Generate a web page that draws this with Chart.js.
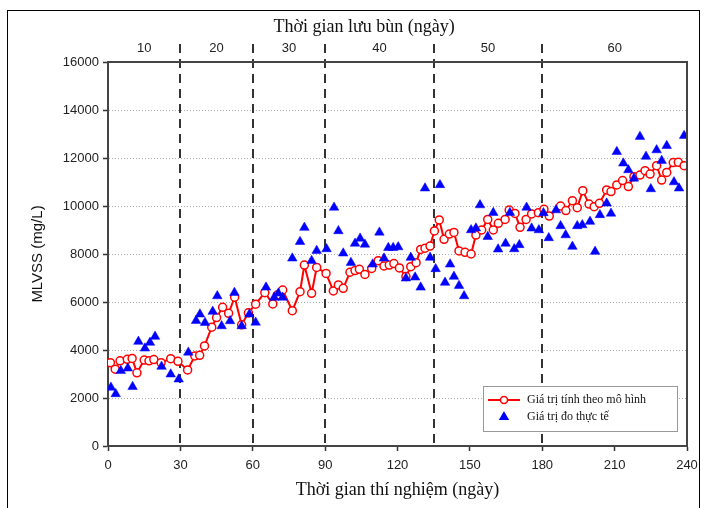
<!DOCTYPE html>
<html>
<head>
<meta charset="utf-8">
<script src="https://cdn.jsdelivr.net/npm/chart.js@4.4.1/dist/chart.umd.min.js"></script>
<style>
  html, body { margin: 0; padding: 0; background: #fff; }
</style>
</head>
<body>
<canvas id="c" width="709" height="508"></canvas>
<script>
// model (red line) - day / MLVSS
var modelDays = [1, 3, 5, 8, 10, 12, 15, 17, 19, 22, 26, 29, 33, 36, 38, 40, 43, 45, 47.5, 50,
  52.5, 55.4, 58.2, 61.2, 65, 68.3, 70.2, 72.4, 76.4, 79.6, 81.4, 84.4, 86.5, 90.4, 93.4, 95.5,
  97.5, 100.3, 102.4, 104.2, 106.5, 109.3, 112, 114.4, 116.6, 118.5, 120.8, 123.5, 125.5, 127.7,
  129.6, 131.4, 133.5, 135.3, 137.3, 139.3, 141.5, 143.4, 145.5, 148, 150.5, 152.5, 154.9, 157.4,
  159.7, 161.8, 164.6, 166.3, 168.7, 170.8, 173.3, 175.6, 178.4, 180.7, 182.9, 187.6, 189.8,
  192.5, 194.5, 196.8, 199.4, 201.5, 203.7, 206.7, 208.5, 210.9, 213.3, 215.7, 218, 220.5,
  222.6, 224.7, 227.4, 229.5, 231.6, 234.3, 236.4, 238.8];
var modelValues = [3470, 3200, 3550, 3610, 3650, 3050, 3580, 3550, 3600, 3470, 3640, 3530, 3170,
  3750, 3780, 4170, 4950, 5350, 5780, 5530, 6200, 5050, 5550, 5910, 6390, 5920, 6290, 6500, 5640,
  6430, 7540, 6360, 7440, 7190, 6460, 6710, 6570, 7240, 7310, 7360, 7150, 7400, 7720, 7500, 7540,
  7600, 7420, 7060, 7470, 7640, 8190, 8240, 8330, 8960, 9420, 8610, 8830, 8900, 8130, 8070, 8000,
  8790, 9000, 9440, 9000, 9280, 9440, 9830, 9690, 9110, 9440, 9670, 9720, 9860, 9580, 10000,
  9810, 10220, 9930, 10640, 10080, 9970, 10110, 10670, 10600, 10880, 11060, 10810, 11220, 11290,
  11470, 11330, 11680, 11080, 11400, 11810, 11820, 11680];

// measured (blue triangles)
var measuredDays = [1.2, 3.2, 5.3, 8.2, 10.2, 12.6, 15.3, 17.4, 19.5, 22.2, 26, 29.3, 33.3, 36.5,
  38.1, 40.2, 43.4, 45.3, 47.1, 50.6, 52.4, 55.4, 58.6, 61.2, 65.5, 68.9, 70.6, 72.4, 76.4, 79.6,
  81.4, 84.4, 86.5, 90.6, 93.7, 95.5, 97.5, 100.7, 102.4, 104.5, 106.5, 109.7, 112.5, 114.4,
  116.2, 118.2, 120.3, 123.5, 125.5, 127.3, 129.6, 131.4, 133.5, 135.8, 137.6, 139.7, 141.8,
  143.4, 145.5, 147.6, 150.5, 152.5, 154.2, 157.4, 159.7, 161.7, 164.8, 166.6, 168.4, 170.5,
  173.5, 175.6, 178.6, 180.5, 182.7, 185.7, 187.6, 189.7, 192.5, 194.5, 196.6, 199.8, 201.9,
  203.9, 206.7, 208.5, 210.9, 213.6, 215.7, 218, 220.5, 223, 225, 227.4, 229.5, 231.6, 234.6,
  236.7, 238.8];
var measuredValues = [2440, 2170, 3140, 3240, 2470, 4350, 4070, 4310, 4560, 3310, 2990, 2780,
  3900, 5220, 5490, 5140, 5600, 6250, 5000, 5210, 6390, 5000, 5490, 5150, 6610, 6190, 6360, 6190,
  7820, 8510, 9100, 7720, 8140, 8210, 9940, 8960, 8030, 7640, 8440, 8650, 8400, 7570, 8900, 7820,
  8260, 8260, 8290, 6990, 7850, 7030, 6610, 10740, 7850, 7380, 10880, 6810, 7570, 7060, 6680,
  6250, 9000, 9070, 10040, 8720, 9720, 8200, 8440, 9720, 8210, 8380, 9940, 9070, 9000, 9710,
  8670, 9830, 9170, 8790, 8310, 9170, 9210, 9350, 8100, 9630, 10110, 9690, 12260, 11780, 11500,
  11150, 12890, 12060, 10710, 12330, 11890, 12510, 11000, 10740, 12930];

// sludge retention time periods (top axis)
var srtBounds = [0, 30, 60, 90, 135, 180, 240];
var srtLabels = ['10', '20', '30', '40', '50', '60'];

var xTicks = [0, 30, 60, 90, 120, 150, 180, 210, 240];

function pts(xs, ys) {
  return xs.map(function (d, i) { return { x: d, y: ys[i] }; });
}

var decorations = {
  id: 'decorations',
  beforeDraw: function (chart) {
    var ctx = chart.ctx;
    ctx.save();
    ctx.fillStyle = '#fff';
    ctx.fillRect(0, 0, chart.width, chart.height);
    ctx.strokeStyle = '#000';
    ctx.lineWidth = 1;
    ctx.strokeRect(7.5, 10.5, 692, 600);
    ctx.restore();
  },
  beforeDatasetsDraw: function (chart) {
    var ctx = chart.ctx, a = chart.chartArea, x = chart.scales.x;
    ctx.save();
    ctx.strokeStyle = '#333';
    ctx.lineWidth = 2;
    ctx.setLineDash([9, 6]);
    for (var i = 1; i < srtBounds.length - 1; i++) {
      var px = Math.round(x.getPixelForValue(srtBounds[i]));
      ctx.beginPath();
      ctx.moveTo(px, a.top - 18);
      ctx.lineTo(px, a.bottom);
      ctx.stroke();
    }
    ctx.restore();
  },
  afterDraw: function (chart) {
    var ctx = chart.ctx, a = chart.chartArea, x = chart.scales.x;
    ctx.save();
    // plot frame top / right
    ctx.strokeStyle = '#444';
    ctx.lineWidth = 2;
    ctx.beginPath();
    ctx.moveTo(a.left, a.top);
    ctx.lineTo(a.right, a.top);
    ctx.lineTo(a.right, a.bottom);
    ctx.stroke();

    // top labels
    ctx.fillStyle = '#222';
    ctx.font = '13px "Liberation Sans", Arial, sans-serif';
    ctx.textAlign = 'center';
    ctx.textBaseline = 'middle';
    for (var i = 0; i < srtLabels.length; i++) {
      var mid = (srtBounds[i] + srtBounds[i + 1]) / 2;
      ctx.fillText(srtLabels[i], x.getPixelForValue(mid), a.top - 14);
    }
    ctx.font = '18px "Liberation Serif", "Times New Roman", serif';
    ctx.fillStyle = '#111';
    ctx.fillText('Thời gian lưu bùn (ngày)', 364, 27);

    // legend
    var lx = a.right - 204, ly = a.bottom - 60;
    ctx.fillStyle = '#fff';
    ctx.fillRect(lx, ly, 194, 45);
    ctx.strokeStyle = '#999';
    ctx.lineWidth = 1;
    ctx.strokeRect(lx + 0.5, ly + 0.5, 194, 45);

    ctx.strokeStyle = '#ff0000';
    ctx.lineWidth = 2;
    ctx.beginPath();
    ctx.moveTo(lx + 5, ly + 14);
    ctx.lineTo(lx + 37, ly + 14);
    ctx.stroke();
    ctx.fillStyle = '#fff';
    ctx.lineWidth = 1.5;
    ctx.beginPath();
    ctx.arc(lx + 21, ly + 14, 3.5, 0, Math.PI * 2);
    ctx.fill();
    ctx.stroke();

    ctx.fillStyle = '#0000ff';
    ctx.strokeStyle = '#0000ff';
    Chart.helpers.drawPoint(ctx, { pointStyle: 'triangle', radius: 4.5, borderWidth: 0.5, rotation: 0 }, lx + 21, ly + 31);

    ctx.fillStyle = '#111';
    ctx.textAlign = 'left';
    ctx.font = '12px "Liberation Serif", "Times New Roman", serif';
    ctx.fillText('Giá trị tính theo mô hình', lx + 44, ly + 14);
    ctx.fillText('Giá trị đo thực tế', lx + 44, ly + 31);
    ctx.restore();
  }
};

new Chart(document.getElementById('c'), {
  type: 'scatter',
  data: {
    datasets: [
      {
        label: 'Giá trị đo thực tế',
        data: pts(measuredDays, measuredValues),
        showLine: false,
        pointStyle: 'triangle',
        pointRadius: 5.5,
        pointBackgroundColor: '#0000ff',
        pointBorderColor: '#0000ff',
        pointBorderWidth: 0.5,
        order: 0
      },
      {
        label: 'Giá trị tính theo mô hình',
        data: pts(modelDays, modelValues),
        showLine: true,
        borderColor: '#ff0000',
        borderWidth: 2,
        tension: 0,
        pointStyle: 'circle',
        pointRadius: 4,
        pointBackgroundColor: '#fff',
        pointBorderColor: '#ff0000',
        pointBorderWidth: 1.5,
        order: 1
      }
    ]
  },
  options: {
    responsive: false,
    animation: false,
    layout: { padding: { left: 0, top: 62, right: 22, bottom: 0 } },
    plugins: { legend: { display: false }, tooltip: { enabled: false } },
    scales: {
      x: {
        type: 'linear',
        min: 0,
        max: 240,
        afterBuildTicks: function (s) { s.ticks = xTicks.map(function (v) { return { value: v }; }); },
        afterFit: function (s) { s.height = 62; },
        grid: { drawOnChartArea: false, drawTicks: true, tickLength: 5, tickColor: '#333', tickWidth: 1.5 },
        border: { color: '#444', width: 2 },
        ticks: {
          color: '#222', padding: 7,
          font: { family: '"Liberation Sans", Arial, sans-serif', size: 13 },
          callback: function (v) { return String(v); }
        },
        title: {
          display: true,
          text: 'Thời gian thí nghiệm (ngày)',
          color: '#111',
          padding: { top: 0, bottom: 7 },
          font: { family: '"Liberation Serif", "Times New Roman", serif', size: 18 }
        }
      },
      y: {
        min: 0,
        max: 16000,
        afterFit: function (s) { s.width = 108; },
        grid: { color: '#aaa', lineWidth: 1, tickLength: 5, tickColor: '#333', tickWidth: 1.5 },
        border: { color: '#444', width: 2, dash: [1, 2] },
        ticks: {
          stepSize: 2000, color: '#222', padding: 4,
          font: { family: '"Liberation Sans", Arial, sans-serif', size: 13 },
          callback: function (v) { return String(v); }
        },
        title: {
          display: true,
          text: 'MLVSS (mg/L)',
          color: '#111',
          padding: { top: 29, bottom: 0 },
          font: { family: '"Liberation Sans", Arial, sans-serif', size: 15 }
        }
      }
    }
  },
  plugins: [decorations]
});
</script>
</body>
</html>
